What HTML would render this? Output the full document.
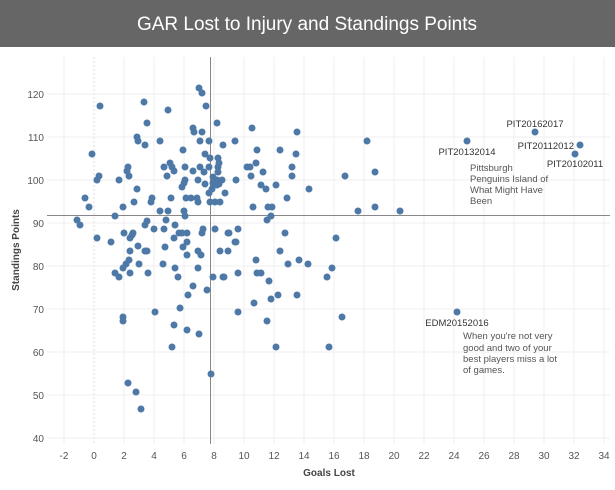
<!DOCTYPE html><html><head><style>body{margin:0;background:#fff}svg{display:block}</style></head><body>
<svg width="615" height="490" xmlns="http://www.w3.org/2000/svg" font-family="Liberation Sans, sans-serif">
<rect x="0" y="0" width="615" height="47" fill="#666"/>
<text x="307" y="30" fill="#fff" font-size="19" text-anchor="middle">GAR Lost to Injury and Standings Points</text>
<g stroke="#efefef" stroke-width="1">
<line x1="64" y1="57" x2="64" y2="444"/><line x1="94" y1="57" x2="94" y2="444" stroke-dasharray="2,2" stroke="#ddd"/><line x1="124" y1="57" x2="124" y2="444"/><line x1="154" y1="57" x2="154" y2="444"/><line x1="184" y1="57" x2="184" y2="444"/><line x1="214" y1="57" x2="214" y2="444"/><line x1="244" y1="57" x2="244" y2="444"/><line x1="274" y1="57" x2="274" y2="444"/><line x1="304" y1="57" x2="304" y2="444"/><line x1="334" y1="57" x2="334" y2="444"/><line x1="364" y1="57" x2="364" y2="444"/><line x1="394" y1="57" x2="394" y2="444"/><line x1="424" y1="57" x2="424" y2="444"/><line x1="454" y1="57" x2="454" y2="444"/><line x1="484" y1="57" x2="484" y2="444"/><line x1="514" y1="57" x2="514" y2="444"/><line x1="544" y1="57" x2="544" y2="444"/><line x1="574" y1="57" x2="574" y2="444"/><line x1="604" y1="57" x2="604" y2="444"/>
<line x1="47" y1="94" x2="610" y2="94"/><line x1="47" y1="137" x2="610" y2="137"/><line x1="47" y1="180" x2="610" y2="180"/><line x1="47" y1="223" x2="610" y2="223"/><line x1="47" y1="266" x2="610" y2="266"/><line x1="47" y1="309" x2="610" y2="309"/><line x1="47" y1="352" x2="610" y2="352"/><line x1="47" y1="395" x2="610" y2="395"/><line x1="47" y1="438" x2="610" y2="438"/>
</g>
<line x1="210.5" y1="57" x2="210.5" y2="444" stroke="#888" stroke-width="1"/>
<line x1="47" y1="215.5" x2="610" y2="215.5" stroke="#888" stroke-width="1"/>
<g fill="#4e79a7">
<circle cx="199" cy="88" r="3.5"/><circle cx="202" cy="93" r="3.5"/><circle cx="100" cy="106" r="3.5"/><circle cx="144" cy="102" r="3.5"/><circle cx="168" cy="110" r="3.5"/><circle cx="206" cy="106" r="3.5"/><circle cx="147" cy="123" r="3.5"/><circle cx="217" cy="123" r="3.5"/><circle cx="193" cy="128" r="3.5"/><circle cx="194" cy="132" r="3.5"/><circle cx="202" cy="132" r="3.5"/><circle cx="137" cy="137" r="3.5"/><circle cx="138" cy="141" r="3.5"/><circle cx="145" cy="145" r="3.5"/><circle cx="160" cy="141" r="3.5"/><circle cx="200" cy="141" r="3.5"/><circle cx="209" cy="141" r="3.5"/><circle cx="223" cy="145" r="3.5"/><circle cx="235" cy="141" r="3.5"/><circle cx="92" cy="154" r="3.5"/><circle cx="183" cy="150" r="3.5"/><circle cx="205" cy="154" r="3.5"/><circle cx="210" cy="158" r="3.5"/><circle cx="218" cy="158" r="3.5"/><circle cx="219" cy="163" r="3.5"/><circle cx="170" cy="163" r="3.5"/><circle cx="172" cy="167" r="3.5"/><circle cx="174" cy="171" r="3.5"/><circle cx="164" cy="167" r="3.5"/><circle cx="185" cy="167" r="3.5"/><circle cx="193" cy="171" r="3.5"/><circle cx="200" cy="167" r="3.5"/><circle cx="204" cy="172" r="3.5"/><circle cx="209" cy="167" r="3.5"/><circle cx="218" cy="167" r="3.5"/><circle cx="218" cy="172" r="3.5"/><circle cx="128" cy="167" r="3.5"/><circle cx="127" cy="171" r="3.5"/><circle cx="129" cy="176" r="3.5"/><circle cx="167" cy="176" r="3.5"/><circle cx="99" cy="176" r="3.5"/><circle cx="97" cy="180" r="3.5"/><circle cx="119" cy="180" r="3.5"/><circle cx="185" cy="180" r="3.5"/><circle cx="184" cy="183" r="3.5"/><circle cx="182" cy="187" r="3.5"/><circle cx="198" cy="180" r="3.5"/><circle cx="213" cy="177" r="3.5"/><circle cx="217" cy="180" r="3.5"/><circle cx="222" cy="180" r="3.5"/><circle cx="213" cy="183" r="3.5"/><circle cx="217" cy="185" r="3.5"/><circle cx="219" cy="184" r="3.5"/><circle cx="236" cy="180" r="3.5"/><circle cx="205" cy="184" r="3.5"/><circle cx="137" cy="189" r="3.5"/><circle cx="212" cy="189" r="3.5"/><circle cx="209" cy="193" r="3.5"/><circle cx="225" cy="193" r="3.5"/><circle cx="85" cy="198" r="3.5"/><circle cx="89" cy="207" r="3.5"/><circle cx="152" cy="198" r="3.5"/><circle cx="151" cy="202" r="3.5"/><circle cx="171" cy="198" r="3.5"/><circle cx="186" cy="198" r="3.5"/><circle cx="191" cy="198" r="3.5"/><circle cx="197" cy="198" r="3.5"/><circle cx="198" cy="202" r="3.5"/><circle cx="210" cy="202" r="3.5"/><circle cx="215" cy="202" r="3.5"/><circle cx="220" cy="202" r="3.5"/><circle cx="134" cy="202" r="3.5"/><circle cx="123" cy="207" r="3.5"/><circle cx="160" cy="211" r="3.5"/><circle cx="168" cy="211" r="3.5"/><circle cx="184" cy="211" r="3.5"/><circle cx="185" cy="216" r="3.5"/><circle cx="115" cy="216" r="3.5"/><circle cx="77" cy="220" r="3.5"/><circle cx="80" cy="225" r="3.5"/><circle cx="147" cy="221" r="3.5"/><circle cx="145" cy="225" r="3.5"/><circle cx="166" cy="220" r="3.5"/><circle cx="175" cy="225" r="3.5"/><circle cx="203" cy="229" r="3.5"/><circle cx="202" cy="233" r="3.5"/><circle cx="215" cy="229" r="3.5"/><circle cx="238" cy="229" r="3.5"/><circle cx="154" cy="229" r="3.5"/><circle cx="164" cy="229" r="3.5"/><circle cx="124" cy="233" r="3.5"/><circle cx="133" cy="233" r="3.5"/><circle cx="132" cy="235" r="3.5"/><circle cx="130" cy="238" r="3.5"/><circle cx="179" cy="233" r="3.5"/><circle cx="182" cy="233" r="3.5"/><circle cx="174" cy="238" r="3.5"/><circle cx="187" cy="233" r="3.5"/><circle cx="97" cy="238" r="3.5"/><circle cx="228" cy="233" r="3.5"/><circle cx="236" cy="242" r="3.5"/><circle cx="111" cy="242" r="3.5"/><circle cx="138" cy="246" r="3.5"/><circle cx="165" cy="247" r="3.5"/><circle cx="183" cy="247" r="3.5"/><circle cx="187" cy="242" r="3.5"/><circle cx="145" cy="251" r="3.5"/><circle cx="147" cy="251" r="3.5"/><circle cx="130" cy="251" r="3.5"/><circle cx="198" cy="251" r="3.5"/><circle cx="201" cy="255" r="3.5"/><circle cx="220" cy="251" r="3.5"/><circle cx="228" cy="251" r="3.5"/><circle cx="187" cy="255" r="3.5"/><circle cx="139" cy="264" r="3.5"/><circle cx="129" cy="260" r="3.5"/><circle cx="126" cy="264" r="3.5"/><circle cx="123" cy="268" r="3.5"/><circle cx="163" cy="264" r="3.5"/><circle cx="175" cy="268" r="3.5"/><circle cx="198" cy="268" r="3.5"/>
<circle cx="115" cy="273" r="3.5"/><circle cx="119" cy="277" r="3.5"/><circle cx="130" cy="273" r="3.5"/><circle cx="148" cy="273" r="3.5"/><circle cx="178" cy="277" r="3.5"/><circle cx="213" cy="277" r="3.5"/><circle cx="223" cy="277" r="3.5"/><circle cx="238" cy="273" r="3.5"/><circle cx="193" cy="286" r="3.5"/><circle cx="188" cy="295" r="3.5"/><circle cx="207" cy="290" r="3.5"/><circle cx="180" cy="308" r="3.5"/><circle cx="155" cy="312" r="3.5"/><circle cx="238" cy="312" r="3.5"/><circle cx="123" cy="317" r="3.5"/><circle cx="123" cy="321" r="3.5"/><circle cx="174" cy="325" r="3.5"/><circle cx="187" cy="330" r="3.5"/><circle cx="199" cy="334" r="3.5"/><circle cx="172" cy="347" r="3.5"/><circle cx="211" cy="374" r="3.5"/><circle cx="128" cy="383" r="3.5"/><circle cx="136" cy="392" r="3.5"/><circle cx="141" cy="409" r="3.5"/>
<circle cx="252" cy="128" r="3.5"/><circle cx="297" cy="132" r="3.5"/><circle cx="257" cy="150" r="3.5"/><circle cx="280" cy="150" r="3.5"/><circle cx="296" cy="154" r="3.5"/><circle cx="256" cy="163" r="3.5"/><circle cx="247" cy="167" r="3.5"/><circle cx="250" cy="167" r="3.5"/><circle cx="292" cy="167" r="3.5"/><circle cx="263" cy="172" r="3.5"/><circle cx="251" cy="176" r="3.5"/><circle cx="292" cy="176" r="3.5"/><circle cx="261" cy="185" r="3.5"/><circle cx="276" cy="185" r="3.5"/><circle cx="266" cy="189" r="3.5"/><circle cx="309" cy="189" r="3.5"/><circle cx="287" cy="198" r="3.5"/><circle cx="253" cy="207" r="3.5"/><circle cx="268" cy="207" r="3.5"/><circle cx="272" cy="207" r="3.5"/><circle cx="271" cy="216" r="3.5"/><circle cx="267" cy="220" r="3.5"/><circle cx="345" cy="176" r="3.5"/><circle cx="367" cy="141" r="3.5"/><circle cx="375" cy="172" r="3.5"/><circle cx="358" cy="211" r="3.5"/><circle cx="375" cy="207" r="3.5"/><circle cx="400" cy="211" r="3.5"/><circle cx="229" cy="233" r="3.5"/><circle cx="235" cy="242" r="3.5"/><circle cx="285" cy="233" r="3.5"/><circle cx="336" cy="238" r="3.5"/><circle cx="280" cy="251" r="3.5"/><circle cx="256" cy="260" r="3.5"/><circle cx="299" cy="260" r="3.5"/><circle cx="288" cy="264" r="3.5"/><circle cx="308" cy="264" r="3.5"/><circle cx="332" cy="268" r="3.5"/><circle cx="327" cy="277" r="3.5"/><circle cx="257" cy="273" r="3.5"/><circle cx="261" cy="273" r="3.5"/><circle cx="224" cy="277" r="3.5"/><circle cx="269" cy="281" r="3.5"/><circle cx="278" cy="295" r="3.5"/><circle cx="297" cy="295" r="3.5"/><circle cx="271" cy="299" r="3.5"/><circle cx="254" cy="303" r="3.5"/><circle cx="342" cy="317" r="3.5"/><circle cx="267" cy="321" r="3.5"/><circle cx="276" cy="347" r="3.5"/><circle cx="329" cy="347" r="3.5"/>
<circle cx="467" cy="141" r="3.5"/><circle cx="535" cy="132" r="3.5"/><circle cx="580" cy="145" r="3.5"/><circle cx="575" cy="154" r="3.5"/><circle cx="457" cy="312" r="3.5"/>
</g>
<g font-size="9.5" fill="#333">
<text x="535" y="127" text-anchor="middle">PIT20162017</text>
<text x="467" y="155" text-anchor="middle">PIT20132014</text>
<text x="574" y="149" text-anchor="end">PIT20112012</text>
<text x="575" y="167" text-anchor="middle">PIT20102011</text>
<text x="457" y="326" text-anchor="middle">EDM20152016</text>
</g>
<g font-size="9.5" fill="#555">
<text x="470" y="171">Pittsburgh</text><text x="470" y="182">Penguins Island of</text><text x="470" y="193">What Might Have</text><text x="470" y="204">Been</text>
<text x="463" y="339">When you're not very</text><text x="463" y="351">good and two of your</text><text x="463" y="362">best players miss a lot</text><text x="463" y="373">of games.</text>
</g>
<g font-size="10" fill="#555" text-anchor="end">
<text x="44" y="98">120</text><text x="44" y="141">110</text><text x="44" y="184">100</text><text x="44" y="227">90</text><text x="44" y="270">80</text><text x="44" y="313">70</text><text x="44" y="356">60</text><text x="44" y="399">50</text><text x="44" y="442">40</text>
</g>
<g font-size="10" fill="#555" text-anchor="middle">
<text x="64" y="459">-2</text><text x="94" y="459">0</text><text x="124" y="459">2</text><text x="154" y="459">4</text><text x="184" y="459">6</text><text x="214" y="459">8</text><text x="244" y="459">10</text><text x="274" y="459">12</text><text x="304" y="459">14</text><text x="334" y="459">16</text><text x="364" y="459">18</text><text x="394" y="459">20</text><text x="424" y="459">22</text><text x="454" y="459">24</text><text x="484" y="459">26</text><text x="514" y="459">28</text><text x="544" y="459">30</text><text x="574" y="459">32</text><text x="604" y="459">34</text>
</g>
<text x="329" y="476" font-size="10" font-weight="bold" fill="#444" text-anchor="middle">Goals Lost</text>
<text transform="translate(19,250) rotate(-90)" font-size="10" font-weight="bold" fill="#444" text-anchor="middle">Standings Points</text>
</svg>
</body></html>
